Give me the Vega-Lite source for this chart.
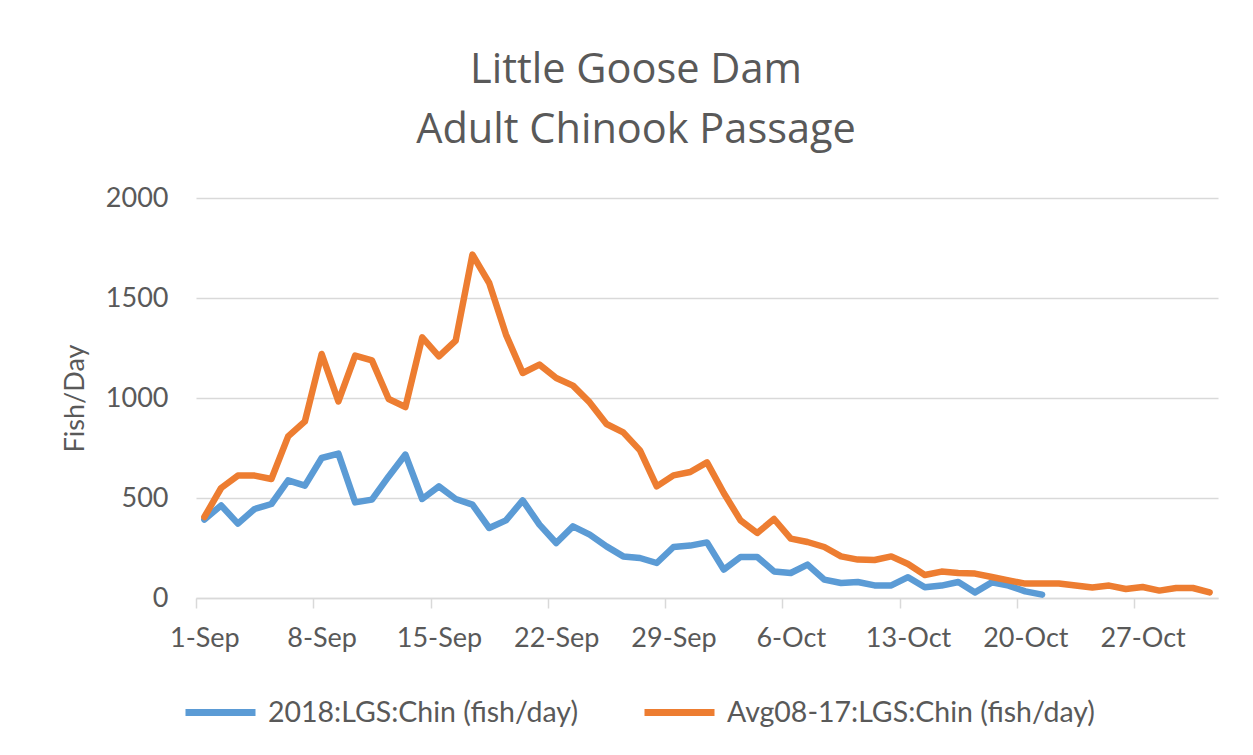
{
  "$schema": "https://vega.github.io/schema/vega-lite/v6.json",
  "width": 1022,
  "height": 400,
  "autosize": {"type": "none"},
  "padding": {"left": 196, "top": 198, "right": 35, "bottom": 157},
  "background": "white",
  "title": {
    "text": ["Little Goose Dam", "Adult Chinook Passage"],
    "font": "Open Sans",
    "fontSize": 41.5,
    "fontWeight": "normal",
    "color": "#595959",
    "lineHeight": 60,
    "anchor": "middle",
    "dx": -71,
    "offset": 33
  },
  "config": {
    "view": {"stroke": null},
    "font": "Lato"
  },
  "data": {
    "values": [
      {"date": "1-Sep", "series": "2018:LGS:Chin (fish/day)", "fish": 392},
      {"date": "2-Sep", "series": "2018:LGS:Chin (fish/day)", "fish": 463},
      {"date": "3-Sep", "series": "2018:LGS:Chin (fish/day)", "fish": 372},
      {"date": "4-Sep", "series": "2018:LGS:Chin (fish/day)", "fish": 445},
      {"date": "5-Sep", "series": "2018:LGS:Chin (fish/day)", "fish": 470},
      {"date": "6-Sep", "series": "2018:LGS:Chin (fish/day)", "fish": 588},
      {"date": "7-Sep", "series": "2018:LGS:Chin (fish/day)", "fish": 562},
      {"date": "8-Sep", "series": "2018:LGS:Chin (fish/day)", "fish": 700},
      {"date": "9-Sep", "series": "2018:LGS:Chin (fish/day)", "fish": 722},
      {"date": "10-Sep", "series": "2018:LGS:Chin (fish/day)", "fish": 478},
      {"date": "11-Sep", "series": "2018:LGS:Chin (fish/day)", "fish": 492},
      {"date": "12-Sep", "series": "2018:LGS:Chin (fish/day)", "fish": 608},
      {"date": "13-Sep", "series": "2018:LGS:Chin (fish/day)", "fish": 717},
      {"date": "14-Sep", "series": "2018:LGS:Chin (fish/day)", "fish": 495},
      {"date": "15-Sep", "series": "2018:LGS:Chin (fish/day)", "fish": 558},
      {"date": "16-Sep", "series": "2018:LGS:Chin (fish/day)", "fish": 495},
      {"date": "17-Sep", "series": "2018:LGS:Chin (fish/day)", "fish": 467},
      {"date": "18-Sep", "series": "2018:LGS:Chin (fish/day)", "fish": 350},
      {"date": "19-Sep", "series": "2018:LGS:Chin (fish/day)", "fish": 388},
      {"date": "20-Sep", "series": "2018:LGS:Chin (fish/day)", "fish": 488},
      {"date": "21-Sep", "series": "2018:LGS:Chin (fish/day)", "fish": 367},
      {"date": "22-Sep", "series": "2018:LGS:Chin (fish/day)", "fish": 275},
      {"date": "23-Sep", "series": "2018:LGS:Chin (fish/day)", "fish": 358},
      {"date": "24-Sep", "series": "2018:LGS:Chin (fish/day)", "fish": 317},
      {"date": "25-Sep", "series": "2018:LGS:Chin (fish/day)", "fish": 258},
      {"date": "26-Sep", "series": "2018:LGS:Chin (fish/day)", "fish": 208},
      {"date": "27-Sep", "series": "2018:LGS:Chin (fish/day)", "fish": 200},
      {"date": "28-Sep", "series": "2018:LGS:Chin (fish/day)", "fish": 175},
      {"date": "29-Sep", "series": "2018:LGS:Chin (fish/day)", "fish": 255},
      {"date": "30-Sep", "series": "2018:LGS:Chin (fish/day)", "fish": 262},
      {"date": "1-Oct", "series": "2018:LGS:Chin (fish/day)", "fish": 278},
      {"date": "2-Oct", "series": "2018:LGS:Chin (fish/day)", "fish": 142},
      {"date": "3-Oct", "series": "2018:LGS:Chin (fish/day)", "fish": 205},
      {"date": "4-Oct", "series": "2018:LGS:Chin (fish/day)", "fish": 205},
      {"date": "5-Oct", "series": "2018:LGS:Chin (fish/day)", "fish": 133},
      {"date": "6-Oct", "series": "2018:LGS:Chin (fish/day)", "fish": 125},
      {"date": "7-Oct", "series": "2018:LGS:Chin (fish/day)", "fish": 167},
      {"date": "8-Oct", "series": "2018:LGS:Chin (fish/day)", "fish": 92},
      {"date": "9-Oct", "series": "2018:LGS:Chin (fish/day)", "fish": 75},
      {"date": "10-Oct", "series": "2018:LGS:Chin (fish/day)", "fish": 80},
      {"date": "11-Oct", "series": "2018:LGS:Chin (fish/day)", "fish": 63},
      {"date": "12-Oct", "series": "2018:LGS:Chin (fish/day)", "fish": 63},
      {"date": "13-Oct", "series": "2018:LGS:Chin (fish/day)", "fish": 104},
      {"date": "14-Oct", "series": "2018:LGS:Chin (fish/day)", "fish": 54},
      {"date": "15-Oct", "series": "2018:LGS:Chin (fish/day)", "fish": 62},
      {"date": "16-Oct", "series": "2018:LGS:Chin (fish/day)", "fish": 80},
      {"date": "17-Oct", "series": "2018:LGS:Chin (fish/day)", "fish": 28},
      {"date": "18-Oct", "series": "2018:LGS:Chin (fish/day)", "fish": 78},
      {"date": "19-Oct", "series": "2018:LGS:Chin (fish/day)", "fish": 62},
      {"date": "20-Oct", "series": "2018:LGS:Chin (fish/day)", "fish": 33},
      {"date": "21-Oct", "series": "2018:LGS:Chin (fish/day)", "fish": 17},
      {"date": "1-Sep", "series": "Avg08-17:LGS:Chin (fish/day)", "fish": 405},
      {"date": "2-Sep", "series": "Avg08-17:LGS:Chin (fish/day)", "fish": 550},
      {"date": "3-Sep", "series": "Avg08-17:LGS:Chin (fish/day)", "fish": 612},
      {"date": "4-Sep", "series": "Avg08-17:LGS:Chin (fish/day)", "fish": 612},
      {"date": "5-Sep", "series": "Avg08-17:LGS:Chin (fish/day)", "fish": 595},
      {"date": "6-Sep", "series": "Avg08-17:LGS:Chin (fish/day)", "fish": 808},
      {"date": "7-Sep", "series": "Avg08-17:LGS:Chin (fish/day)", "fish": 883},
      {"date": "8-Sep", "series": "Avg08-17:LGS:Chin (fish/day)", "fish": 1220},
      {"date": "9-Sep", "series": "Avg08-17:LGS:Chin (fish/day)", "fish": 983},
      {"date": "10-Sep", "series": "Avg08-17:LGS:Chin (fish/day)", "fish": 1212},
      {"date": "11-Sep", "series": "Avg08-17:LGS:Chin (fish/day)", "fish": 1188},
      {"date": "12-Sep", "series": "Avg08-17:LGS:Chin (fish/day)", "fish": 995},
      {"date": "13-Sep", "series": "Avg08-17:LGS:Chin (fish/day)", "fish": 955},
      {"date": "14-Sep", "series": "Avg08-17:LGS:Chin (fish/day)", "fish": 1303},
      {"date": "15-Sep", "series": "Avg08-17:LGS:Chin (fish/day)", "fish": 1208},
      {"date": "16-Sep", "series": "Avg08-17:LGS:Chin (fish/day)", "fish": 1287},
      {"date": "17-Sep", "series": "Avg08-17:LGS:Chin (fish/day)", "fish": 1717},
      {"date": "18-Sep", "series": "Avg08-17:LGS:Chin (fish/day)", "fish": 1575},
      {"date": "19-Sep", "series": "Avg08-17:LGS:Chin (fish/day)", "fish": 1317},
      {"date": "20-Sep", "series": "Avg08-17:LGS:Chin (fish/day)", "fish": 1125},
      {"date": "21-Sep", "series": "Avg08-17:LGS:Chin (fish/day)", "fish": 1167},
      {"date": "22-Sep", "series": "Avg08-17:LGS:Chin (fish/day)", "fish": 1100},
      {"date": "23-Sep", "series": "Avg08-17:LGS:Chin (fish/day)", "fish": 1062},
      {"date": "24-Sep", "series": "Avg08-17:LGS:Chin (fish/day)", "fish": 978},
      {"date": "25-Sep", "series": "Avg08-17:LGS:Chin (fish/day)", "fish": 870},
      {"date": "26-Sep", "series": "Avg08-17:LGS:Chin (fish/day)", "fish": 828},
      {"date": "27-Sep", "series": "Avg08-17:LGS:Chin (fish/day)", "fish": 738},
      {"date": "28-Sep", "series": "Avg08-17:LGS:Chin (fish/day)", "fish": 558},
      {"date": "29-Sep", "series": "Avg08-17:LGS:Chin (fish/day)", "fish": 613},
      {"date": "30-Sep", "series": "Avg08-17:LGS:Chin (fish/day)", "fish": 630},
      {"date": "1-Oct", "series": "Avg08-17:LGS:Chin (fish/day)", "fish": 678},
      {"date": "2-Oct", "series": "Avg08-17:LGS:Chin (fish/day)", "fish": 525},
      {"date": "3-Oct", "series": "Avg08-17:LGS:Chin (fish/day)", "fish": 388},
      {"date": "4-Oct", "series": "Avg08-17:LGS:Chin (fish/day)", "fish": 325},
      {"date": "5-Oct", "series": "Avg08-17:LGS:Chin (fish/day)", "fish": 395},
      {"date": "6-Oct", "series": "Avg08-17:LGS:Chin (fish/day)", "fish": 297},
      {"date": "7-Oct", "series": "Avg08-17:LGS:Chin (fish/day)", "fish": 280},
      {"date": "8-Oct", "series": "Avg08-17:LGS:Chin (fish/day)", "fish": 255},
      {"date": "9-Oct", "series": "Avg08-17:LGS:Chin (fish/day)", "fish": 208},
      {"date": "10-Oct", "series": "Avg08-17:LGS:Chin (fish/day)", "fish": 192},
      {"date": "11-Oct", "series": "Avg08-17:LGS:Chin (fish/day)", "fish": 190},
      {"date": "12-Oct", "series": "Avg08-17:LGS:Chin (fish/day)", "fish": 208},
      {"date": "13-Oct", "series": "Avg08-17:LGS:Chin (fish/day)", "fish": 170},
      {"date": "14-Oct", "series": "Avg08-17:LGS:Chin (fish/day)", "fish": 115},
      {"date": "15-Oct", "series": "Avg08-17:LGS:Chin (fish/day)", "fish": 132},
      {"date": "16-Oct", "series": "Avg08-17:LGS:Chin (fish/day)", "fish": 125},
      {"date": "17-Oct", "series": "Avg08-17:LGS:Chin (fish/day)", "fish": 122},
      {"date": "18-Oct", "series": "Avg08-17:LGS:Chin (fish/day)", "fish": 105},
      {"date": "19-Oct", "series": "Avg08-17:LGS:Chin (fish/day)", "fish": 88},
      {"date": "20-Oct", "series": "Avg08-17:LGS:Chin (fish/day)", "fish": 72},
      {"date": "21-Oct", "series": "Avg08-17:LGS:Chin (fish/day)", "fish": 72},
      {"date": "22-Oct", "series": "Avg08-17:LGS:Chin (fish/day)", "fish": 72},
      {"date": "23-Oct", "series": "Avg08-17:LGS:Chin (fish/day)", "fish": 62},
      {"date": "24-Oct", "series": "Avg08-17:LGS:Chin (fish/day)", "fish": 53},
      {"date": "25-Oct", "series": "Avg08-17:LGS:Chin (fish/day)", "fish": 62},
      {"date": "26-Oct", "series": "Avg08-17:LGS:Chin (fish/day)", "fish": 45},
      {"date": "27-Oct", "series": "Avg08-17:LGS:Chin (fish/day)", "fish": 55},
      {"date": "28-Oct", "series": "Avg08-17:LGS:Chin (fish/day)", "fish": 37},
      {"date": "29-Oct", "series": "Avg08-17:LGS:Chin (fish/day)", "fish": 50},
      {"date": "30-Oct", "series": "Avg08-17:LGS:Chin (fish/day)", "fish": 50},
      {"date": "31-Oct", "series": "Avg08-17:LGS:Chin (fish/day)", "fish": 28}
    ]
  },
  "mark": {"type": "line", "strokeWidth": 6.5, "strokeJoin": "round", "strokeCap": "round"},
  "encoding": {
    "x": {
      "field": "date",
      "type": "ordinal",
      "sort": null,
      "scale": {"type": "point", "padding": 0.5},
      "axis": {
        "title": null,
        "values": ["1-Sep", "8-Sep", "15-Sep", "22-Sep", "29-Sep", "6-Oct", "13-Oct", "20-Oct", "27-Oct"],
        "labelAngle": 0,
        "labelFont": "Lato",
        "labelFontSize": 27,
        "labelColor": "#595959",
        "labelPadding": 17,
        "tickOffset": -8.38,
        "labelOffset": 8.38,
        "tickSize": 10,
        "tickColor": "#D9D9D9",
        "domainColor": "#D9D9D9",
        "domainWidth": 1.5,
        "tickWidth": 1.5,
        "grid": false
      }
    },
    "y": {
      "field": "fish",
      "type": "quantitative",
      "scale": {"domain": [0, 2000], "nice": false},
      "axis": {
        "title": "Fish/Day",
        "titleFont": "Lato",
        "titleFontSize": 27,
        "titleFontWeight": "normal",
        "titleColor": "#595959",
        "titlePadding": 16,
        "values": [0, 500, 1000, 1500, 2000],
        "format": "d",
        "labelFont": "Lato",
        "labelFontSize": 27,
        "labelColor": "#595959",
        "labelPadding": 28,
        "ticks": false,
        "domain": false,
        "grid": true,
        "gridColor": "#D9D9D9",
        "gridWidth": 1.5
      }
    },
    "color": {
      "field": "series",
      "type": "nominal",
      "scale": {
        "domain": ["2018:LGS:Chin (fish/day)", "Avg08-17:LGS:Chin (fish/day)"],
        "range": ["#5B9BD5", "#ED7D31"]
      },
      "legend": {
        "title": null,
        "orient": "none",
        "direction": "horizontal",
        "legendX": -14,
        "legendY": 476,
        "symbolType": "stroke",
        "symbolSize": 4900,
        "symbolStrokeWidth": 7,
        "labelFont": "Lato",
        "labelFontSize": 28.5,
        "labelColor": "#595959",
        "labelOffset": 9,
        "labelLimit": 600,
        "columnPadding": 51
      }
    }
  }
}
